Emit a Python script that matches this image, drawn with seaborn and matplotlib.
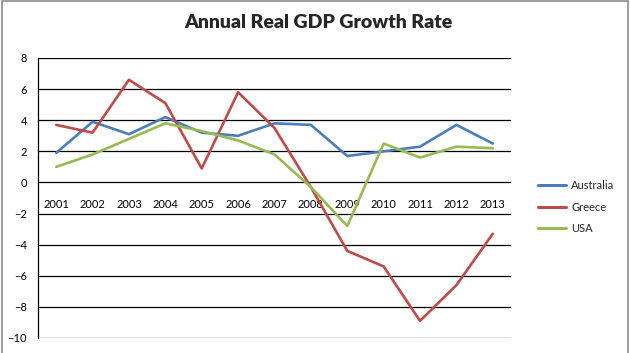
import pandas as pd
import seaborn as sns
import matplotlib.pyplot as plt
from matplotlib.lines import Line2D

years = list(range(2001, 2014))
australia = [1.9, 3.9, 3.1, 4.2, 3.2, 3.0, 3.8, 3.7, 1.7, 2.0, 2.3, 3.7, 2.5]
greece = [3.7, 3.2, 6.6, 5.1, 0.9, 5.8, 3.5, -0.3, -4.4, -5.4, -8.9, -6.6, -3.3]
usa = [1.0, 1.8, 2.8, 3.8, 3.3, 2.7, 1.8, -0.3, -2.8, 2.5, 1.6, 2.3, 2.2]
countries = ["Australia", "Greece", "USA"]
colors = ["#4A7EBB", "#BE4B48", "#98B954"]

df = pd.DataFrame({"year": years * 3,
                   "growth": australia + greece + usa,
                   "country": [c for c in countries for _ in years]})

sns.set_theme(style="white")
plt.rcParams["font.family"] = ["Lato", "DejaVu Sans"]

fig = plt.figure(figsize=(6.3, 3.53), dpi=100)
ax = fig.add_axes([38 / 630, 1 - 338 / 353, (511 - 38) / 630, (338 - 58) / 353])

sns.lineplot(data=df, x="year", y="growth", hue="country", palette=colors,
             linewidth=1.9, ax=ax, legend=False)

ax.set_xlim(2000.5, 2013.5)
ax.set_ylim(-10, 8)
ax.set_yticks(range(-10, 9, 2))
ax.set_xticks(years)
ax.set_xticklabels([str(y) for y in years])
ax.set_xlabel("")
ax.set_ylabel("")
ax.grid(axis="y", color="black", linewidth=0.9)
ax.set_axisbelow(True)

# category axis crosses at zero, labels sit just under it
ax.spines["bottom"].set_position(("data", 0))
ax.spines["bottom"].set_visible(False)
ax.spines["top"].set_visible(False)
ax.spines["right"].set_visible(False)
ax.spines["left"].set_color("black")
ax.spines["left"].set_linewidth(0.9)
ax.tick_params(axis="x", length=0, pad=12, labelsize=8, colors="black")
ax.tick_params(axis="y", length=0, pad=8, labelsize=8, colors="black")

handles = [Line2D([], [], color=c, linewidth=2.2) for c in colors]
fig.legend(handles, countries, loc="upper left",
           bbox_to_anchor=(528 / 630, 1 - 170 / 353), frameon=False,
           fontsize=8, handlelength=2.5, handletextpad=0.5, labelspacing=0.95)

fig.text(0.505, 1 - 22 / 353, "Annual Real GDP Growth Rate", ha="center", va="center",
         fontsize=14, fontweight="heavy")

# chart area border
fig.patches.append(plt.Rectangle((2 / 630, -0.05), 626 / 630, 1.05 - 1.5 / 353,
                                 transform=fig.transFigure, fill=False,
                                 edgecolor="#8c8c8c", linewidth=1.2))

fig.savefig("out.png", dpi=100)
